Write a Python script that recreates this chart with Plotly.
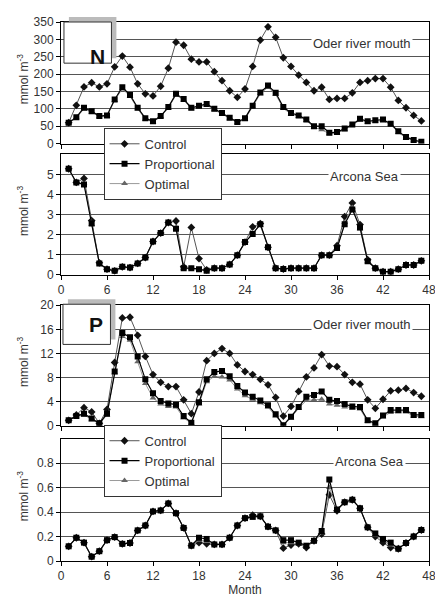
import plotly.graph_objects as go
from plotly.subplots import make_subplots

months = list(range(1, 48))

n_oder_control = [60,110,163,175,163,172,221,252,220,172,143,137,165,217,292,283,243,235,235,207,181,152,133,157,222,298,336,306,247,222,197,176,152,162,127,130,130,146,176,181,187,187,162,124,103,81,65]
n_oder_prop = [60,76,103,93,79,81,127,162,140,103,73,64,79,105,143,128,103,109,114,100,88,74,62,73,109,147,167,146,105,88,81,69,50,50,31,33,43,55,71,64,67,69,57,35,19,10,5]
n_oder_opt = [58,74,100,90,77,79,124,158,136,100,70,62,77,102,140,125,100,106,111,97,85,71,60,70,105,143,162,141,101,85,78,66,46,40,28,30,40,52,68,61,64,66,54,32,16,8,4]

n_arc_control = [5.28,4.6,4.8,2.7,0.6,0.28,0.2,0.4,0.36,0.57,0.86,1.66,2.08,2.6,2.68,0.4,2.36,0.81,0.25,0.33,0.33,0.52,0.98,1.63,2.39,2.55,1.37,0.33,0.29,0.33,0.33,0.33,0.33,0.98,0.98,1.45,2.9,3.58,2.5,0.75,0.33,0.16,0.16,0.28,0.49,0.49,0.7]
n_arc_prop = [5.28,4.6,4.5,2.55,0.57,0.28,0.2,0.4,0.36,0.57,0.86,1.66,2.08,2.6,2.3,0.33,0.33,0.28,0.2,0.33,0.33,0.52,0.98,1.63,2.03,2.52,1.37,0.33,0.29,0.33,0.33,0.33,0.33,0.98,0.98,1.33,2.52,3.25,2.36,0.68,0.33,0.16,0.16,0.28,0.49,0.49,0.7]
n_arc_opt = [5.25,4.58,4.55,2.5,0.55,0.27,0.2,0.39,0.35,0.56,0.85,1.64,2.05,2.55,2.35,0.32,0.32,0.27,0.2,0.32,0.32,0.5,0.96,1.6,2.1,2.45,1.35,0.32,0.28,0.32,0.32,0.32,0.32,0.96,0.97,1.3,2.6,3.35,2.3,0.65,0.32,0.15,0.15,0.27,0.48,0.48,0.68]

p_oder_control = [0.9,1.8,3.0,2.3,0.4,2.7,10.5,17.9,18.0,15.0,11.5,8.5,7.2,6.5,6.5,4.3,2.0,5.6,10.8,12.0,12.8,12.0,10.1,9.0,8.5,7.7,6.8,4.7,1.6,3.2,5.7,8.1,9.6,11.8,9.9,9.8,8.5,7.2,6.9,4.3,2.9,4.4,5.8,5.9,6.2,5.5,4.9]
p_oder_prop = [0.9,1.6,2.0,1.2,0.4,2.0,9.0,15.4,14.7,11.5,7.7,5.4,4.1,3.7,3.5,1.6,0.5,3.9,7.7,8.9,9.1,8.2,6.6,5.5,4.8,4.2,3.4,1.9,0.1,1.5,3.1,4.8,5.1,5.7,4.3,4.1,3.6,3.2,3.1,0.9,0.4,1.7,2.6,2.6,2.6,1.8,1.8]
p_oder_opt = [0.9,1.5,1.8,1.0,0.3,1.8,8.8,14.8,14.2,10.6,7.0,4.6,3.6,3.2,3.1,1.3,0.4,3.6,7.3,8.2,8.1,7.6,6.1,5.0,4.4,3.8,3.1,1.6,0.1,1.3,2.9,4.2,4.3,4.4,3.6,3.4,3.1,2.9,2.8,0.7,0.3,1.5,2.2,2.3,2.3,1.6,1.5]

p_arc_control = [0.12,0.19,0.15,0.035,0.08,0.17,0.195,0.14,0.147,0.25,0.29,0.405,0.413,0.47,0.39,0.27,0.125,0.15,0.14,0.135,0.135,0.19,0.29,0.35,0.375,0.365,0.28,0.25,0.105,0.13,0.14,0.11,0.165,0.22,0.54,0.41,0.48,0.5,0.43,0.275,0.2,0.15,0.11,0.1,0.147,0.2,0.253]
p_arc_prop = [0.12,0.19,0.15,0.035,0.08,0.17,0.195,0.14,0.147,0.25,0.29,0.405,0.413,0.47,0.39,0.27,0.125,0.19,0.18,0.135,0.135,0.19,0.29,0.35,0.36,0.365,0.28,0.25,0.17,0.17,0.15,0.125,0.165,0.245,0.665,0.42,0.48,0.5,0.43,0.275,0.225,0.18,0.15,0.1,0.147,0.2,0.253]
p_arc_opt = [0.12,0.19,0.15,0.035,0.08,0.17,0.195,0.14,0.147,0.25,0.29,0.405,0.413,0.47,0.39,0.27,0.125,0.17,0.16,0.135,0.135,0.19,0.29,0.35,0.36,0.365,0.28,0.25,0.15,0.15,0.14,0.12,0.16,0.23,0.6,0.42,0.48,0.5,0.43,0.275,0.21,0.17,0.13,0.1,0.147,0.2,0.253]

x_ticks = [0, 6, 12, 18, 24, 30, 36, 42, 48]
panel_titles = ["Oder river mouth", "Arcona Sea", "Oder river mouth", "Arcona Sea"]
panel_letters = ["N", "P"]
series_names = ["Control", "Proportional", "Optimal"]

# page body adds an 8px offset; coordinates below are screen pixels
OFF = 8
SW, SH = 443, 601
W, H = SW - OFF, SH - OFF
PLOT_L, PLOT_R, PLOT_T, PLOT_B = 61, 433, 15, 565
L, R, T, B = PLOT_L - OFF, SW - PLOT_R, PLOT_T - OFF, SH - PLOT_B
PH = PLOT_B - PLOT_T
PW = PLOT_R - PLOT_L

def py(ypx):
    return (PLOT_B - ypx) / PH

def pxx(xpx):
    return (xpx - PLOT_L) / PW

fig = make_subplots(rows=4, cols=1)

panels = [
    (n_oder_control, n_oder_prop, n_oder_opt, (15, 139), [0, 350], list(range(0, 351, 50)), "legend"),
    (n_arc_control, n_arc_prop, n_arc_opt, (150, 273), [0, 6], [0, 1, 2, 3, 4, 5], "legend"),
    (p_oder_control, p_oder_prop, p_oder_opt, (304, 427), [0, 20], [0, 4, 8, 12, 16, 20], "legend2"),
    (p_arc_control, p_arc_prop, p_arc_opt, (440, 565), [0, 1.0], [0, 0.2, 0.4, 0.6, 0.8], "legend2"),
]

styles = {
    "Control": dict(line=dict(color="#555555", width=1), marker=dict(symbol="diamond", size=6, color="#111111"), rank=1),
    "Proportional": dict(line=dict(color="#000000", width=1.2), marker=dict(symbol="square", size=6, color="#000000"), rank=2),
    "Optimal": dict(line=dict(color="#9a9a9a", width=1), marker=dict(symbol="triangle-up", size=6, color="#666666"), rank=3),
}

font_family = "Liberation Sans, Arial, sans-serif"

for i, (ctl, prop, opt, (top, bot), yr, yt, leg) in enumerate(panels):
    row = i + 1
    first_in_group = (i % 2 == 0)
    for name, vals in [("Control", ctl), ("Optimal", opt), ("Proportional", prop)]:
        st = styles[name]
        fig.add_trace(go.Scatter(
            x=months, y=vals, mode="lines+markers", name=name,
            line=st["line"], marker=st["marker"],
            legend=leg, legendrank=st["rank"], showlegend=first_in_group,
        ), row=row, col=1)
    yaxis_name = "yaxis" if row == 1 else f"yaxis{row}"
    xaxis_name = "xaxis" if row == 1 else f"xaxis{row}"
    fig.layout[yaxis_name].update(
        domain=[py(bot), py(top)], range=yr, tickvals=yt,
        showgrid=True, gridcolor="#555555", gridwidth=1,
        showline=True, linecolor="#000000", linewidth=1, mirror=True,
        ticks="outside", ticklen=4, tickcolor="#000000",
        tickfont=dict(size=12, color="#333333", family=font_family),
        zeroline=False,
    )
    show_labels = (row in (2, 4))
    fig.layout[xaxis_name].update(
        range=[0, 48], tickvals=x_ticks, showticklabels=show_labels,
        showgrid=False, showline=True, linecolor="#000000", linewidth=1, mirror=True,
        ticks="outside", ticklen=4, tickcolor="#000000",
        tickfont=dict(size=12, color="#333333", family=font_family),
        zeroline=False,
    )
    title_pos = [(365, 37), (368, 173), (365, 324), (373, 463)][i]
    fig.add_annotation(
        x=pxx(title_pos[0]), y=py(title_pos[1]), xref="paper", yref="paper",
        text=panel_titles[i], showarrow=False, bgcolor="white",
        font=dict(size=13, color="#333333", family=font_family),
        xanchor="center", yanchor="middle", borderpad=1,
    )
    fig.add_annotation(
        x=pxx(22), y=py((top + bot) / 2 - 4), xref="paper", yref="paper",
        text="mmol m<sup>-3</sup>", showarrow=False, textangle=-90,
        font=dict(size=12, color="#333333", family=font_family),
        xanchor="center", yanchor="middle",
    )

fig.update_xaxes(title_text="Month", title_font=dict(size=12, color="#333333", family=font_family),
                 title_standoff=2, row=4, col=1)

for letter, (bx0, by0, bx1, by1) in zip(panel_letters, [(64, 15, 112, 57), (63, 303, 111, 344)]):
    fig.add_shape(type="rect", xref="paper", yref="paper",
                  x0=pxx(bx0 + 5), x1=pxx(bx1 + 5), y0=py(by1 - 5), y1=py(by0 - 5),
                  fillcolor="#bbbbbb", line=dict(width=0), layer="above")
    fig.add_shape(type="rect", xref="paper", yref="paper",
                  x0=pxx(bx0), x1=pxx(bx1), y0=py(by1), y1=py(by0),
                  fillcolor="white", line=dict(color="#333333", width=1), layer="above")
    fig.add_annotation(x=pxx((bx0 + bx1) / 2), y=py((by0 + by1) / 2), xref="paper", yref="paper",
                       text=f"<b>{letter}</b>", showarrow=False,
                       font=dict(size=21, color="#111111", family=font_family))

legend_style = dict(
    bgcolor="white", bordercolor="#333333", borderwidth=1,
    font=dict(size=13, color="#333333", family=font_family),
    xanchor="left", yanchor="top", traceorder="normal",
    itemwidth=30, tracegroupgap=0,
)
fig.update_layout(
    width=W, height=H,
    margin=dict(l=L, r=R, t=T, b=B),
    plot_bgcolor="white", paper_bgcolor="white",
    font=dict(family=font_family, color="#333333"),
    legend=dict(x=pxx(104), y=py(123), **legend_style),
    legend2=dict(x=pxx(104), y=py(426), **legend_style),
)

fig.write_html("out.html")
